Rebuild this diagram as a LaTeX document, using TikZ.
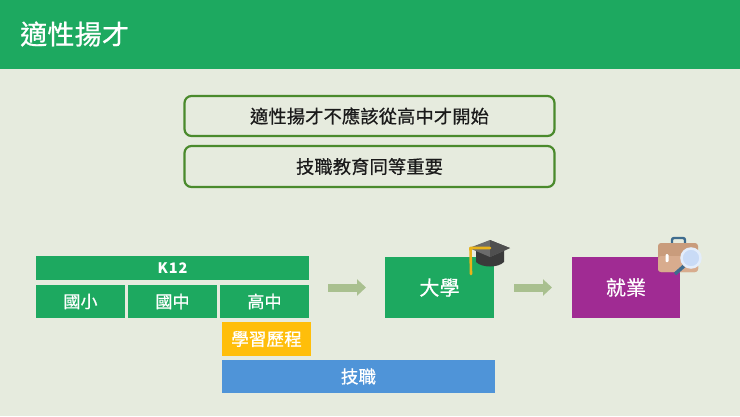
\documentclass[tikz,border=0pt]{standalone}
\usepackage{fontspec}
\setmainfont[FakeBold=0.7,LetterSpace=1]{Noto Sans CJK TC}
\newfontfamily\heavyf[LetterSpace=6]{Noto Sans CJK TC}
\usetikzlibrary{arrows.meta}
\definecolor{bgc}{HTML}{E6EBDE}
\definecolor{greenc}{HTML}{1DA960}
\definecolor{edgec}{HTML}{4A8A2C}
\definecolor{arrowc}{HTML}{A9C08F}
\definecolor{purplec}{HTML}{A02B93}
\definecolor{bluec}{HTML}{4F94D8}
\definecolor{amberc}{HTML}{FFBE0A}
\definecolor{txtc}{HTML}{1A1A1A}
\definecolor{capdark}{HTML}{3A3A3A}
\definecolor{captop}{HTML}{6B6B6B}
\definecolor{captop2}{HTML}{4F4F4F}
\definecolor{tassel}{HTML}{E9B31B}
\definecolor{casetop}{HTML}{C99C7C}
\definecolor{caselow}{HTML}{D8AC8E}
\definecolor{casehandle}{HTML}{3F6C8E}
\definecolor{lensrim}{HTML}{E3EDFB}
\definecolor{lensin}{HTML}{C9DBF6}
\tikzset{
  block/.style={anchor=north west,inner sep=0pt,outer sep=0pt,text=white,align=center},
  greenblock/.style={block,fill=greenc},
  note/.style={draw=edgec,line width=2.2pt,rounded corners=7pt,fill=bgc,text=txtc,
    minimum width=370pt,inner sep=0pt,outer sep=0pt,font=\fontsize{18.2}{18.2}\selectfont},
  blockarrow/.style={draw=arrowc,line width=8pt,-{Triangle[length=9pt,width=16pt,fill=arrowc]}}
}
\begin{document}
\begin{tikzpicture}[x=1pt,y=-1pt]
\useasboundingbox (0,0) rectangle (740,416);
\fill[bgc] (0,0) rectangle (740,416);
\fill[greenc] (0,0) rectangle (740,69);
\node[anchor=west,inner sep=0pt,text=white,font=\fontsize{27}{27}\selectfont] (title) at (20,34) {適性揚才};

\node[note,minimum height=40pt] (n1) at (369.5,116) {適性揚才不應該從高中才開始};
\node[note,minimum height=41pt] (n2) at (369.5,166.5) {技職教育同等重要};

\node[greenblock,minimum width=273pt,minimum height=24pt,font=\heavyf\bfseries\fontsize{14.5}{14.5}\selectfont] (k12) at (36,256) {K12};
\node[greenblock,minimum width=89pt,minimum height=33pt,font=\fontsize{17}{17}\selectfont] (gx) at (36,285) {國小};
\node[greenblock,minimum width=89pt,minimum height=33pt,font=\fontsize{17}{17}\selectfont] (gz) at (128,285) {國中};
\node[greenblock,minimum width=89pt,minimum height=33pt,font=\fontsize{17}{17}\selectfont] (hs) at (220,285) {高中};
\node[block,fill=amberc,minimum width=89pt,minimum height=34pt,font=\fontsize{17.5}{17.5}\selectfont] (portfolio) at (222,322) {學習歷程};
\node[block,fill=bluec,minimum width=273pt,minimum height=33pt,font=\fontsize{17.5}{17.5}\selectfont] (voc) at (222,360) {技職};
\node[greenblock,minimum width=109pt,minimum height=61pt,font=\fontsize{20}{20}\selectfont] (uni) at (385,257) {大學};
\node[block,fill=purplec,minimum width=108pt,minimum height=61pt,font=\fontsize{20}{20}\selectfont] (job) at (572,257) {就業};

\draw[blockarrow,shorten <=19pt,shorten >=19pt] (hs.east |- uni.west) -- (uni.west);
\draw[blockarrow,shorten <=20pt,shorten >=20pt] (uni.east) -- (job.west);

% graduation cap
\fill[capdark] (476,250) -- (476,262) .. controls (482,268) and (498,268) .. (504,262) -- (504,250) -- cycle;
\fill[captop] (469,248) -- (490,240) -- (510,248) -- (490,257) -- cycle;
\fill[captop2] (490,240) -- (510,248) -- (490,257) -- cycle;
\draw[tassel,line width=2.6pt,line join=round,line cap=round] (490,248) -- (470.5,248) -- (471,274);

% briefcase
\draw[casehandle,line width=2.4pt,rounded corners=2pt] (672,245) -- (672,238) -- (685,238) -- (685,245);
\fill[casetop,rounded corners=3pt] (658,243) rectangle (698,272);
\fill[caselow,rounded corners=3pt] (658,256) rectangle (698,272);
\fill[white,rounded corners=1pt] (665.5,254) rectangle (668.5,262);
% magnifier
\draw[casehandle,line width=3.5pt] (675,274) -- (684,266);
\fill[lensin,draw=lensrim,line width=2.5pt] (691,258) circle (9.5);
\end{tikzpicture}
\end{document}
